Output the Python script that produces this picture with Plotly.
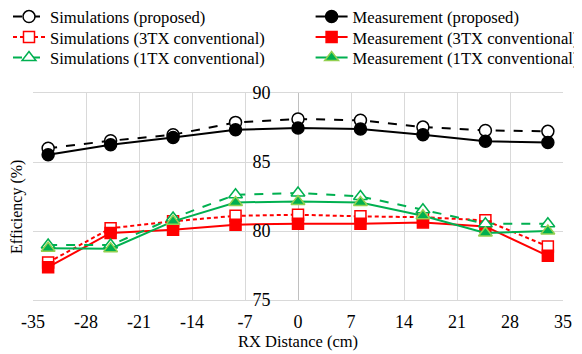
import plotly.graph_objects as go

# ---- data ----
rx_distance = [-33, -24.75, -16.5, -8.25, 0, 8.25, 16.5, 24.75, 33]
sim_proposed = [86.0, 86.54, 86.98, 87.87, 88.12, 88.02, 87.53, 87.29, 87.22]
meas_proposed = [85.53, 86.25, 86.78, 87.34, 87.46, 87.39, 86.98, 86.5, 86.42]
sim_3tx = [77.72, 80.2, 80.7, 81.1, 81.18, 81.06, 81.0, 80.77, 78.88]
meas_3tx = [77.38, 79.86, 80.09, 80.46, 80.53, 80.53, 80.62, 80.33, 78.2]
sim_1tx = [78.98, 78.98, 80.94, 82.63, 82.75, 82.5, 81.54, 80.53, 80.53]
meas_1tx = [78.75, 78.72, 80.7, 82.07, 82.14, 82.07, 81.1, 79.86, 80.0]

x_ticks = [-35, -28, -21, -14, -7, 0, 7, 14, 21, 28, 35]
y_ticks = [75, 80, 85, 90]

FONT = "Liberation Serif"
BLACK = "#000000"
RED = "#ff0000"
GREEN = "#00b050"
LIGHTGREEN = "#92d050"

# the page body adds an 8px offset, so the figure is sized to the visible area
W, H = 574, 346
fig = go.Figure()

# legend slots: (column left px, row centre px) in figure pixels
COL_X = [0, 302.6]
ROW_Y = [8.8, 29.3, 49.8]

legend_layout = {}
def add(i, name, y, color, dash, symbol, fill, outline, size, col, row):
    lg = "legend" if i == 0 else f"legend{i+1}"
    fig.add_trace(go.Scatter(
        x=rx_distance, y=y, name=name, mode="lines+markers",
        line=dict(color=color, width=2, dash=dash),
        marker=dict(symbol=symbol, size=size, color=fill,
                    line=dict(color=outline, width=1.5)),
        legend=lg,
    ))
    legend_layout[lg] = dict(
        xref="container", yref="container",
        x=COL_X[col] / W, y=1 - ROW_Y[row] / H,
        xanchor="left", yanchor="middle",
        itemwidth=32,
        font=dict(family=FONT, size=16.6, color="black"),
        bgcolor="rgba(0,0,0,0)",
    )

add(0, "Simulations (proposed)", sim_proposed, BLACK, "dash", "circle", "white", BLACK, 12, 0, 0)
add(1, "Measurement (proposed)", meas_proposed, BLACK, "solid", "circle", BLACK, BLACK, 12, 1, 0)
add(2, "Simulations (3TX conventional)", sim_3tx, RED, "4px,3px", "square", "white", RED, 11, 0, 1)
add(3, "Measurement (3TX conventional)", meas_3tx, RED, "solid", "square", RED, RED, 11, 1, 1)
add(4, "Simulations (1TX conventional)", sim_1tx, GREEN, "dash", "triangle-up", "white", GREEN, 12, 0, 2)
add(5, "Measurement (1TX conventional)", meas_1tx, GREEN, "solid", "triangle-up", GREEN, LIGHTGREEN, 12, 1, 2)

fig.update_layout(
    width=W, height=H,
    margin=dict(l=25.3, r=19.3, t=85.3, b=54, autoexpand=False),
    paper_bgcolor="white", plot_bgcolor="white",
    font=dict(family=FONT, size=17, color="black"),
    showlegend=True,
    xaxis=dict(
        range=[-35, 35], tickvals=x_ticks, ticktext=[str(v) for v in x_ticks],
        showgrid=True, gridcolor="#d9d9d9", gridwidth=1,
        zeroline=True, zerolinecolor="#c0c0c0", zerolinewidth=1,
        showline=True, linecolor="#d9d9d9", mirror=True,
        ticks="outside", ticklen=5, tickcolor="rgba(0,0,0,0)",
        tickfont=dict(family=FONT, size=18),
    ),
    yaxis=dict(
        range=[75, 90], tickvals=y_ticks, ticktext=[str(v) for v in y_ticks],
        showgrid=True, gridcolor="#d9d9d9", gridwidth=1,
        zeroline=False, showline=False,
        anchor="free", position=0.5,
        ticks="outside", ticklen=24, tickcolor="rgba(0,0,0,0)",
        tickfont=dict(family=FONT, size=18),
    ),
    annotations=[
        dict(text="RX Distance (cm)", xref="paper", yref="paper",
             x=0.5, y=-0.2017, xanchor="center", yanchor="middle",
             showarrow=False, font=dict(family=FONT, size=16.5)),
        dict(text="Efficiency (%)", xref="paper", yref="paper",
             x=-0.0314, y=0.4514, xanchor="center", yanchor="middle",
             textangle=-90, showarrow=False, font=dict(family=FONT, size=16)),
    ],
    **legend_layout,
)

fig.write_html("out.html")
